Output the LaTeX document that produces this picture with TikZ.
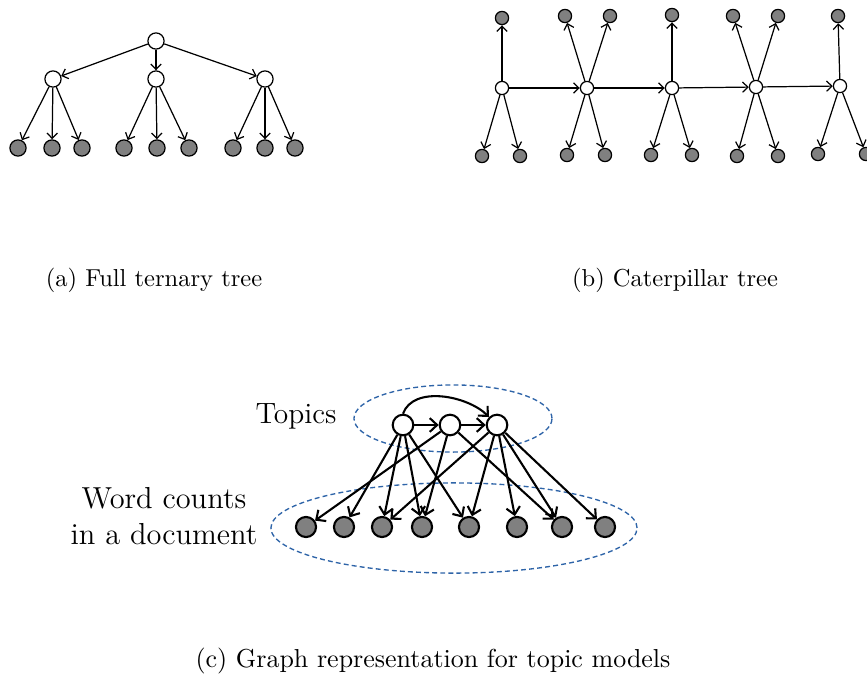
\documentclass[tikz,border=0pt]{standalone}
\usepackage{tikz}
\usetikzlibrary{calc}
\usetikzlibrary{arrows.meta}
\usepackage{xcolor}

\definecolor{grpblue}{RGB}{46,100,168}
\definecolor{leafgray}{RGB}{128,128,128}

\begin{document}
\begin{tikzpicture}[x=0.408pt, y=-0.408pt]
        % ================= 样式 =================
        \tikzset{
            % 白色内部节点
            wnode/.style={circle, draw=black, line width=0.5pt, fill=white, minimum size=6.6pt, inner sep=0pt},
            % 灰色叶节点
            gnode/.style={circle, draw=black, line width=0.5pt, fill=leafgray, minimum size=6.6pt, inner sep=0pt},
            % 毛毛虫树的小节点
            wsmall/.style={wnode, minimum size=5.4pt},
            gsmall/.style={gnode, minimum size=5.4pt},
            % 主题模型节点 (粗线)
            tnode/.style={wnode, line width=0.85pt, minimum size=8.4pt},
            dnode/.style={gnode, line width=0.85pt, minimum size=8.2pt},
            % 连边
            tree_edge/.style={-{Straight Barb[length=2.2pt, width=4.2pt]}, line width=0.5pt, black},
            topic_edge/.style={-{Straight Barb[length=3pt, width=5.6pt]}, line width=0.85pt, black},
            group_line/.style={dashed, dash pattern=on 2pt off 1.3pt, line width=0.55pt, grpblue},
            cap_text/.style={font=\normalsize, inner sep=0pt}
        }
        \useasboundingbox (0,0) rectangle (867,696);

        % ================= (a) 满三叉树 =================
        \node[wnode] (root) at (156,41) {};
        \node[wnode] (m1) at (53,79) {};
        \node[wnode] (m2) at (156,79) {};
        \node[wnode] (m3) at (265,79) {};

        \foreach \i/\x in {1/18, 2/52, 3/82, 4/124, 5/157, 6/189, 7/233, 8/265, 9/295}
            \node[gnode] (leaf\i) at (\x,148) {};

        \draw[tree_edge] (root) -- (m1);
        \draw[tree_edge] (root) -- (m2);
        \draw[tree_edge] (root) -- (m3);
        \foreach \m/\a/\b/\c in {m1/1/2/3, m2/4/5/6, m3/7/8/9} {
            \draw[tree_edge] (\m) -- (leaf\a);
            \draw[tree_edge] (\m) -- (leaf\b);
            \draw[tree_edge] (\m) -- (leaf\c);
        }

        \node[cap_text] (cap_a) at (154,280) {(a) Full ternary tree};

        % ================= (b) 毛毛虫树 =================
        \node[wsmall] (s1) at (502,88) {};
        \node[wsmall] (s2) at (587,88) {};
        \node[wsmall] (s3) at (672,88) {};
        \node[wsmall] (s4) at (756,87) {};
        \node[wsmall] (s5) at (840,86) {};

        \draw[tree_edge] (s1) -- (s2);
        \draw[tree_edge] (s2) -- (s3);
        \draw[tree_edge] (s3) -- (s4);
        \draw[tree_edge] (s4) -- (s5);

        % 上方叶子
        \foreach \s/\n/\x/\y in {s1/u1/502/18, s2/u2/565/16, s2/u3/610/16, s3/u4/672/15,
                                 s4/u5/733/16, s4/u6/778/16, s5/u7/838/16} {
            \node[gsmall] (\n) at (\x,\y) {};
            \draw[tree_edge] (\s) -- (\n);
        }
        % 下方叶子
        \foreach \s/\n/\x/\y in {s1/d1/482/156, s1/d2/520/156, s2/d3/567/155, s2/d4/605/155,
                                 s3/d5/651/155, s3/d6/692/155, s4/d7/737/156, s4/d8/778/156,
                                 s5/d9/818/154, s5/d10/866/154} {
            \node[gsmall] (\n) at (\x,\y) {};
            \draw[tree_edge] (\s) -- (\n);
        }

        \node[cap_text] (cap_b) at (675,280) {(b) Caterpillar tree};

        % ================= (c) 主题模型 =================
        \draw[group_line] (453,418.5) ellipse [x radius=40.4pt, y radius=13.7pt];
        \draw[group_line] (454,528) ellipse [x radius=74.7pt, y radius=18.4pt];

        \node[tnode] (t1) at (403,425) {};
        \node[tnode] (t2) at (450,425) {};
        \node[tnode] (t3) at (497,425) {};

        \foreach \i/\x in {1/306, 2/344, 3/382, 4/422, 5/469, 6/517, 7/562, 8/605}
            \node[dnode] (w\i) at (\x,527) {};

        % 主题之间
        \draw[topic_edge] (t1) -- (t2);
        \draw[topic_edge] (t2) -- (t3);
        \draw[topic_edge] (t1.north) to[out=70, in=135, looseness=0.9] (t3.north west);

        % 主题 -> 词
        \foreach \w in {2,3,4,5}
            \draw[topic_edge] (t1) -- (w\w);
        \foreach \w in {1,4,7}
            \draw[topic_edge] (t2) -- (w\w);
        \foreach \w in {3,5,6,7,8}
            \draw[topic_edge] (t3) -- (w\w);

        \node[font=\fontsize{12}{14.5}\selectfont, anchor=east, inner sep=0pt] (lbl_topics) at (337,416) {Topics};
        \node[font=\fontsize{12.4}{14.5}\selectfont, align=center, inner sep=0pt] (lbl_words) at (164,516) {Word counts\\in a document};

        \node[cap_text, font=\fontsize{10.6}{13}\selectfont] (cap_c) at (433,661) {(c) Graph representation for topic models};
    \end{tikzpicture}
\end{document}
